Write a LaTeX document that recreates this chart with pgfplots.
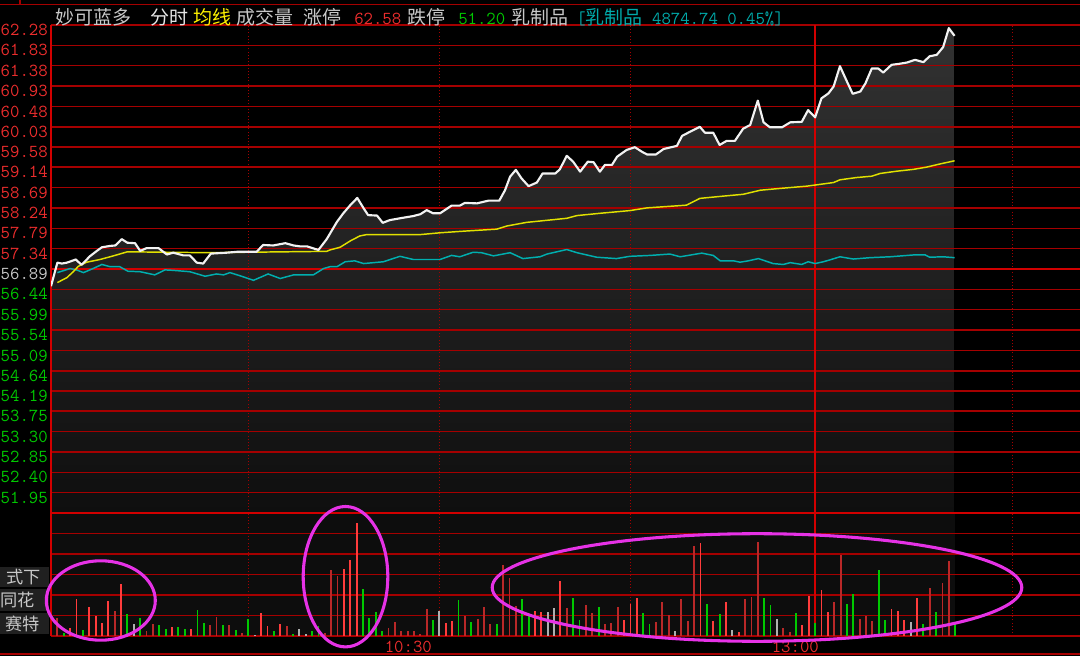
\documentclass[border=0pt]{standalone}
\usepackage{fontspec}
\usepackage{pgfplots}
\usepackage{pgfplotstable}
\pgfplotsset{compat=1.18}
\newfontfamily\cjk{Noto Sans CJK SC}
\definecolor{gridred}{RGB}{165,0,0}
\definecolor{midred}{RGB}{210,0,0}
\definecolor{labred}{RGB}{235,45,45}
\definecolor{labgreen}{RGB}{0,200,0}
\definecolor{labgray}{RGB}{200,200,200}
\definecolor{pwhite}{RGB}{242,242,242}
\definecolor{pyellow}{RGB}{225,225,0}
\definecolor{pcyan}{RGB}{0,175,175}
\definecolor{vred}{RGB}{255,60,60}
\definecolor{vdred}{RGB}{185,40,40}
\definecolor{vgreen}{RGB}{0,200,0}
\definecolor{vgray}{RGB}{175,175,175}
\definecolor{ring}{RGB}{230,50,230}
\definecolor{hdrteal}{RGB}{0,170,170}
\definecolor{fillTop}{RGB}{50,50,50}
\definecolor{fillBot}{RGB}{15,15,15}
\definecolor{volbg}{RGB}{13,13,13}
\definecolor{hdrgray}{RGB}{200,200,200}
\definecolor{wmbg}{RGB}{32,32,32}
\newcommand{\numfont}{\ttfamily\fontsize{13.7pt}{14pt}\selectfont}
\newcommand{\hcjk}{\cjk\fontsize{14.25pt}{15pt}\selectfont}
\newcommand{\wcjk}{\cjk\fontsize{12.9pt}{14pt}\selectfont}
\pgfplotstableread{
t p
0 56.51
1.0 57.03
1.7 57.01
2.5 57.03
3.9 57.10
4.8 56.98
6.1 57.17
7.2 57.29
8.0 57.37
9.3 57.40
10.1 57.41
11.1 57.55
12.0 57.47
13.2 57.46
14.0 57.29
15.0 57.35
16.9 57.35
18.2 57.21
19.2 57.25
20.8 57.19
21.8 57.19
22.9 57.03
23.9 57.01
25.1 57.23
27.6 57.25
29.2 57.27
32.3 57.27
33.3 57.42
34.9 57.41
36.8 57.46
38.1 57.41
39.1 57.39
40.2 57.39
42.0 57.31
43.3 57.55
44.9 57.93
45.9 58.12
47.0 58.30
48.1 58.46
49.1 58.23
49.8 58.08
51.2 58.07
52.1 57.91
53.2 57.97
54.8 58.01
56.9 58.06
58.0 58.10
59.0 58.19
60.0 58.12
61.1 58.12
62.9 58.29
64.2 58.29
65.0 58.35
66.9 58.34
68.7 58.40
70.4 58.40
71.3 58.63
72.1 58.93
73.0 59.08
73.9 58.89
75.0 58.72
76.3 58.80
77.2 59.00
79.2 59.00
79.9 59.09
81.0 59.39
82.0 59.26
83.1 59.04
84.3 59.26
85.2 59.25
86.2 59.04
87.0 59.19
88.1 59.19
88.9 59.37
90.4 59.52
91.7 59.58
92.8 59.48
93.6 59.42
95.0 59.42
96.2 59.54
98.3 59.61
99.1 59.83
100.6 59.94
101.9 60.03
102.7 59.90
104.0 59.90
105.0 59.63
106.1 59.72
107.4 59.72
108.7 59.99
109.8 60.07
111.0 60.61
111.9 60.13
112.9 60.02
114.8 60.02
116.1 60.13
117.9 60.14
118.9 60.40
120.0 60.24
121.0 60.66
122.1 60.77
122.9 60.92
123.9 61.37
125.0 61.03
125.9 60.76
127.1 60.81
127.9 60.99
128.9 61.32
129.9 61.32
130.7 61.23
132.0 61.40
133.1 61.42
134.4 61.45
135.7 61.51
137.0 61.46
138.0 61.59
139.1 61.62
140.1 61.79
141.0 62.21
141.9 62.04
}\pricetable
\begin{document}
\begin{tikzpicture}
\fill[black] (0,0) rectangle (810pt,492pt);

% ---------- backgrounds (drawn first, under the grids) ----------
\begin{axis}[
  at={(38.25pt,15pt)}, anchor=south west,
  width=771.75pt, height=92.25pt, scale only axis, hide axis,
  xmin=0, xmax=161.6, ymin=0, ymax=600,
]
\addplot[fill=volbg, draw=none] coordinates {(0,600) (141.9,600)} \closedcycle;
\end{axis}
% price area: values measured from the panel floor (51.50)
\begin{axis}[
  at={(38.25pt,107.25pt)}, anchor=south west,
  width=771.75pt, height=366pt, scale only axis, hide axis,
  xmin=0, xmax=161.6, ymin=0, ymax=10.78,
]
\addplot[top color=fillTop, bottom color=fillBot, draw=none]
  table[x=t, y expr=\thisrow{p}-51.5] {\pricetable} \closedcycle;
\end{axis}

% ---------------- volume panel ----------------
\begin{axis}[
  at={(38.25pt,15pt)}, anchor=south west,
  width=771.75pt, height=92.25pt, scale only axis,
  xmin=0, xmax=161.6, ymin=0, ymax=600,
  axis line style={draw=none}, tick style={draw=none},
  xtick={31,61,91,151}, xticklabels={,10:30,,},
  extra x ticks={0,120}, extra x tick labels={,13:00},
  ytick={0,100,...,600}, yticklabels={},
  xmajorgrids, ymajorgrids,
  major x grid style={gridred, dotted, line width=0.9pt},
  major y grid style={gridred, line width=1.1pt},
  extra x tick style={major x grid style={midred, solid, line width=1pt}, xticklabel style={xshift=8.5pt}},
  xticklabel style={font=\numfont, text=labred, anchor=north east, inner sep=0pt, yshift=-4pt, xshift=-5.5pt},
]
% bright red
\addplot[ycomb, vred, line width=1.4pt] coordinates {
(3,41) (4,180) (6,141) (7,98) (8,62) (9,173) (11,255) (19,44) (22,34) (33,111) (34,49) (36,57)
(46,329) (47,373) (48,550) (62,62) (63,74) (76,121) (77,116) (80,270) (90,79) (91,157) (92,183)
(102,452) (104,72) (106,168) (108,20) (118,54) (119,193) (121,222) (122,116) (132,131) (133,121)
(134,77) (136,183)};
% dark red
\addplot[ycomb, vdred, line width=1.4pt] coordinates {
(1,87) (10,121) (15,25) (16,57) (25,53) (26,92) (28,53) (30,15) (37,49) (43,14) (44,324) (45,295)
(53,39) (54,69) (55,25) (56,25) (57,25) (58,8) (59,131) (65,98) (67,83) (68,141) (69,57) (71,344)
(72,285) (73,147) (81,136) (84,149) (85,111) (87,57) (88,64) (89,141) (95,69) (96,168) (97,102)
(99,180) (100,72) (101,437) (109,180) (110,188) (111,457) (115,41) (116,20) (123,168) (124,393)
(127,83) (128,100) (129,72) (138,236) (140,260) (141,368)};
% green
\addplot[ycomb, vgreen, line width=1.4pt] coordinates {
(2,16) (5,29) (12,107) (14,87) (17,53) (18,34) (20,44) (21,34) (23,126) (24,64) (27,53) (29,29)
(31,83) (35,25) (38,10) (41,22) (42,49) (49,231) (50,87) (51,116) (52,25) (60,79) (64,175) (66,69)
(70,57) (74,180) (75,103) (82,183) (83,77) (86,141) (93,111) (94,57) (103,154) (105,105) (112,183)
(113,149) (117,111) (120,62) (125,156) (126,203) (130,324) (131,77) (137,57) (139,116) (142,57)};
% gray (unchanged)
\addplot[ycomb, vgray, line width=1.4pt] coordinates {
(13,57) (32,5) (39,33) (40,10) (61,123) (78,116) (79,136) (98,25) (107,29) (114,83) (135,67)};
\end{axis}

% ---------------- price panel ----------------
\begin{axis}[
  at={(38.25pt,107.25pt)}, anchor=south west,
  width=771.75pt, height=366pt, scale only axis,
  xmin=0, xmax=161.6, ymin=51.5, ymax=62.28,
  axis line style={draw=none}, tick style={draw=none},
  xtick={31,61,91,151}, xticklabels={},
  extra x ticks={0,120}, extra x tick labels={},
  extra x tick style={major x grid style={midred, solid, line width=1pt}},
  xmajorgrids, ymajorgrids,
  major x grid style={gridred, dotted, line width=0.9pt},
  major y grid style={gridred, line width=1.1pt},
  ytick={51.95,52.40,52.85,53.30,53.75,54.19,54.64,55.09,55.54,55.99,56.44,56.89,57.34,57.79,58.24,58.69,59.14,59.58,60.03,60.48,60.93,61.38,61.83,62.28},
  yticklabels={\textcolor{labgreen}{51.95},\textcolor{labgreen}{52.40},\textcolor{labgreen}{52.85},\textcolor{labgreen}{53.30},\textcolor{labgreen}{53.75},\textcolor{labgreen}{54.19},\textcolor{labgreen}{54.64},\textcolor{labgreen}{55.09},\textcolor{labgreen}{55.54},\textcolor{labgreen}{55.99},\textcolor{labgreen}{56.44},\textcolor{labgray}{56.89},\textcolor{labred}{57.34},\textcolor{labred}{57.79},\textcolor{labred}{58.24},\textcolor{labred}{58.69},\textcolor{labred}{59.14},\textcolor{labred}{59.58},\textcolor{labred}{60.03},\textcolor{labred}{60.48},\textcolor{labred}{60.93},\textcolor{labred}{61.38},\textcolor{labred}{61.83},\textcolor{labred}{62.28}},
  extra y ticks={51.5,56.89}, extra y tick labels={},
  extra y tick style={major y grid style={midred, line width=1.6pt}},
  yticklabel style={font=\numfont, anchor=east, inner sep=0pt, xshift=-2.25pt, yshift=-3.75pt},
]
% cyan (sector index overlay)
\addplot[pcyan, line width=1.1pt] coordinates {
(1.0,56.81) (3.0,56.90) (4.0,56.87) (5.1,56.81) (6.6,56.90) (8.0,56.99) (9.3,56.94) (10.8,56.94)
(12.1,56.84) (14.0,56.83) (16.3,56.76) (17.9,56.87) (19.2,56.86) (21.8,56.83) (24.2,56.73) (26.0,56.78)
(27.1,56.76) (28.1,56.81) (29.7,56.74) (31.8,56.64) (34.1,56.78) (36.0,56.68) (38.1,56.76) (41.2,56.76)
(42.8,56.90) (43.8,56.94) (44.9,56.94) (46.2,57.05) (47.7,57.07) (49.1,57.01) (52.2,57.05) (54.8,57.17)
(56.9,57.10) (61.1,57.10) (62.9,57.19) (64.2,57.16) (66.3,57.26) (67.6,57.25) (69.5,57.18) (72.1,57.25)
(74.1,57.12) (76.8,57.16) (77.9,57.22) (81.0,57.32) (82.6,57.25) (85.7,57.15) (88.8,57.12) (90.9,57.17)
(94.1,57.19) (97.2,57.22) (98.8,57.16) (102.2,57.24) (104.0,57.19) (105.1,57.07) (107.2,57.07)
(108.2,57.04) (109.5,57.07) (111.1,57.12) (113.4,57.01) (115.0,56.99) (116.1,57.03) (117.9,56.99)
(118.9,57.05) (120.0,57.01) (121.3,57.05) (122.3,57.09) (123.9,57.16) (126.0,57.11) (128.6,57.14)
(131.8,57.16) (135.4,57.20) (137.3,57.20) (138.0,57.15) (140.1,57.16) (141.9,57.14)};
% yellow (average price)
\addplot[pyellow, line width=1.1pt] coordinates {
(1.0,56.59) (2.5,56.70) (3.5,56.83) (4.3,56.95) (5.6,57.04) (7.7,57.10) (9.8,57.18) (12.0,57.27)
(24.5,57.25) (43.3,57.28) (43.8,57.31) (45.4,57.37) (47.0,57.51) (48.5,57.62) (49.6,57.65) (58.0,57.65)
(61.1,57.69) (65.3,57.73) (70.0,57.77) (71.6,57.84) (74.7,57.92) (81.0,58.01) (82.6,58.07) (86.2,58.12)
(90.9,58.18) (93.6,58.24) (99.8,58.30) (101.9,58.45) (105.6,58.50) (108.7,58.54) (111.4,58.63)
(114.5,58.67) (118.7,58.72) (120.8,58.76) (122.9,58.80) (123.9,58.86) (126.5,58.91) (128.9,58.94)
(130.2,59.00) (132.8,59.05) (135.4,59.09) (137.5,59.14) (139.6,59.21) (141.9,59.28)};
% white (price)
\addplot[pwhite, line width=1.6pt, line join=round] table[x=t, y=p] {\pricetable};
\end{axis}

% ---------------- frame, header, annotations (pixel grid) ----------------
\begin{scope}[x=0.75pt, y=-0.75pt, yshift=492pt]
  \draw[gridred, line width=1.1pt] (0,4.4) -- (1080,4.4);
  \draw[gridred, line width=0.9pt] (20,0) -- (20,4.4);
  \draw[gridred, line width=1.1pt] (0,654) -- (1080,654);
  % header
  \node[anchor=base west, inner sep=0pt, text=hdrgray, font=\hcjk] at (55,24.5) {妙可蓝多};
  \node[anchor=base west, inner sep=0pt, text=white!90!black, font=\hcjk] at (150,24.5) {分时};
  \node[anchor=base west, inner sep=0pt, text=yellow, font=\hcjk] at (193,24.5) {均线};
  \node[anchor=base west, inner sep=0pt, text=hdrgray, font=\hcjk] at (236,24.5) {成交量};
  \node[anchor=base west, inner sep=0pt, text=hdrgray, font=\hcjk] at (303,24.5) {涨停};
  \node[anchor=base west, inner sep=0pt, text=labred, font=\numfont] at (354,24.5) {62.58};
  \node[anchor=base west, inner sep=0pt, text=hdrgray, font=\hcjk] at (407,24.5) {跌停};
  \node[anchor=base west, inner sep=0pt, text=labgreen, font=\numfont] at (458,24.5) {51.20};
  \node[anchor=base west, inner sep=0pt, text=hdrgray, font=\hcjk] at (511,24.5) {乳制品};
  \node[anchor=base west, inner sep=0pt, text=hdrteal, font=\numfont] at (576,24.5) {[{\hcjk 乳制品} 4874.74 0.45\%]};
  % bottom-left overlay text (partly hidden under the chart frame)
  \fill[wmbg] (0,567) rectangle (49,587);
  \fill[wmbg] (0,589) rectangle (49,611);
  \fill[wmbg] (0,613) rectangle (49,634);
  \node[anchor=base west, inner sep=0pt, text=hdrgray, font=\wcjk] at (6,584) {式下};
  \node[anchor=base west, inner sep=0pt, text=hdrgray, font=\wcjk] at (0.5,607) {同花};
  \node[anchor=base west, inner sep=0pt, text=hdrgray, font=\wcjk] at (5,630) {赛特};
  % magenta rings
  \draw[ring, line width=2.3pt] (100.8,600.5) ellipse [x radius=54.5, y radius=39.7];
  \draw[ring, line width=2.3pt] (345.5,576.7) ellipse [x radius=42.3, y radius=70.2];
  \draw[ring, line width=2.3pt] (757,587.5) ellipse [x radius=264.8, y radius=53.8];
\end{scope}
\pgfresetboundingbox
\path[use as bounding box] (0,0) rectangle (810pt,492pt);
\end{tikzpicture}
\end{document}
